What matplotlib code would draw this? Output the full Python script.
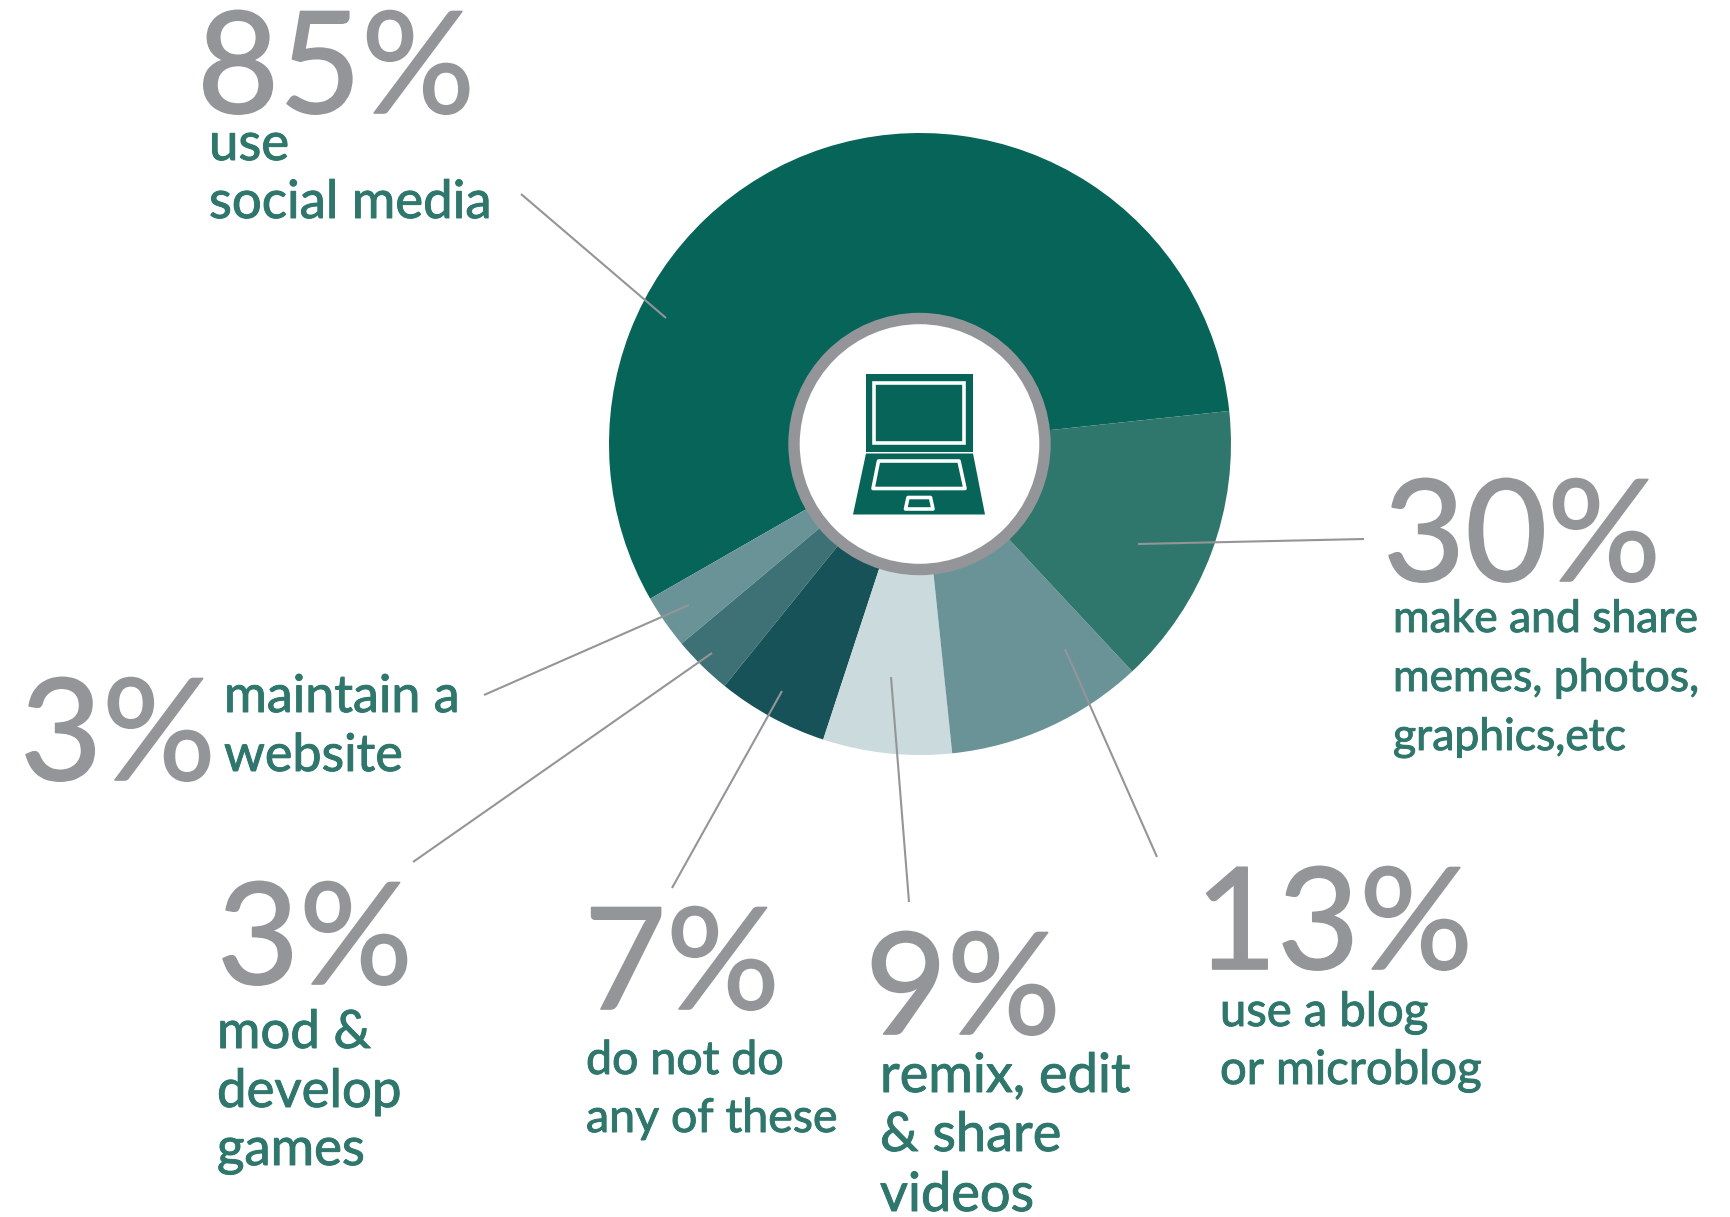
import matplotlib
matplotlib.use('Agg')
import matplotlib.pyplot as plt
import matplotlib.patheffects as pe
from matplotlib.patches import Circle, Polygon, Rectangle

plt.rcParams['font.family'] = ['Lato', 'DejaVu Sans']

# data
percents = ['85%', '3%', '3%', '7%', '9%', '13%', '30%']
labels = [
    ['use', 'social media'],
    ['maintain a', 'website'],
    ['mod &', 'develop', 'games'],
    ['do not do', 'any of these'],
    ['remix, edit', '& share', 'videos'],
    ['use a blog', 'or microblog'],
    ['make and share', 'memes, photos,', 'graphics,etc'],
]
# slice sizes as drawn (degrees), they do not follow the printed percents
slice_sizes = [203.85, 10.12, 11.13, 20.8, 24.1, 37.1, 53.1]

colors = ['#076458', '#6a9397', '#3e7175', '#175259', '#cbdadd', '#6a9397', '#2f776c']
GRAY = '#939598'
GREEN = '#2f776c'
DARK = '#076458'

W, H = 1731, 1217
CX, CY, R = 920, 444, 311

# layout in pixels: number x/baseline, then label x, line baselines and font size
num_pos = [(197, 113), (20, 780), (217, 984), (584, 1009), (865, 1034), (1195, 969), (1383, 581)]
label_pos = [
    (209, [160, 218], 38),
    (224, [712, 771], 37.5),
    (217, [1048, 1107, 1165], 38),
    (586, [1074, 1132], 33.5),
    (880, [1092, 1151, 1211], 39),
    (1220, [1026, 1084], 34),
    (1393, [632, 691, 750], 32),
]
leaders = [
    ((521, 194), (666, 318)),
    ((484, 695), (689, 605)),
    ((413, 862), (712, 653)),
    ((672, 888), (782, 691)),
    ((909, 902), (891, 677)),
    ((1157, 857), (1065, 649)),
    ((1364, 539), (1138, 544)),
]

fig = plt.figure(figsize=(W / 100, H / 100), dpi=100, facecolor='white')

# donut
ax_pie = fig.add_axes([(CX - R) / W, 1 - (CY + R) / H, 2 * R / W, 2 * R / H])
ax_pie.pie(slice_sizes, colors=colors, startangle=6.1, counterclock=True, radius=1,
           wedgeprops={'linewidth': 0})
ax_pie.set_xlim(-1, 1)
ax_pie.set_ylim(-1, 1)

# overlay in pixel coordinates
ax = fig.add_axes([0, 0, 1, 1], zorder=5)
ax.set_xlim(0, W)
ax.set_ylim(H, 0)
ax.axis('off')
ax.patch.set_alpha(0)

# centre ring
ax.add_patch(Circle((919.5, 444), 125.5, facecolor='white', edgecolor=GRAY, linewidth=8.2))

# laptop icon
ax.add_patch(Rectangle((866, 373.5), 107, 78, facecolor=DARK, edgecolor='none'))
ax.add_patch(Rectangle((874.5, 382.5), 90, 60.5, facecolor=DARK, edgecolor='white', linewidth=2.6))
ax.add_patch(Polygon([(866, 453.5), (973, 453.5), (985, 514.5), (853, 514.5)], facecolor=DARK, edgecolor='none'))
ax.add_patch(Polygon([(878.5, 461), (959, 461), (965, 488.5), (873, 488.5)], facecolor=DARK,
                     edgecolor='white', linewidth=2.6, joinstyle='round'))
ax.add_patch(Polygon([(908, 497.5), (930.5, 497.5), (933, 509), (905.5, 509)], facecolor=DARK,
                     edgecolor='white', linewidth=2.6, joinstyle='round'))

# leader lines
for (x0, y0), (x1, y1) in leaders:
    ax.plot([x0, x1], [y0, y1], color=GRAY, linewidth=1.5, solid_capstyle='butt')

# numbers and labels, thin stroke because the original face is heavier than Lato
for pct, (nx, ny) in zip(percents, num_pos):
    t = ax.text(nx, ny, pct, color=GRAY, fontsize=102, ha='left', va='baseline')
    t.set_path_effects([pe.withStroke(linewidth=1.2, foreground=GRAY)])

for lines, (lx, ys, size) in zip(labels, label_pos):
    for line, y in zip(lines, ys):
        t = ax.text(lx, y, line, color=GREEN, fontsize=size, ha='left', va='baseline')
        t.set_path_effects([pe.withStroke(linewidth=0.7, foreground=GREEN)])

fig.savefig('out.png', dpi=100, facecolor='white')
